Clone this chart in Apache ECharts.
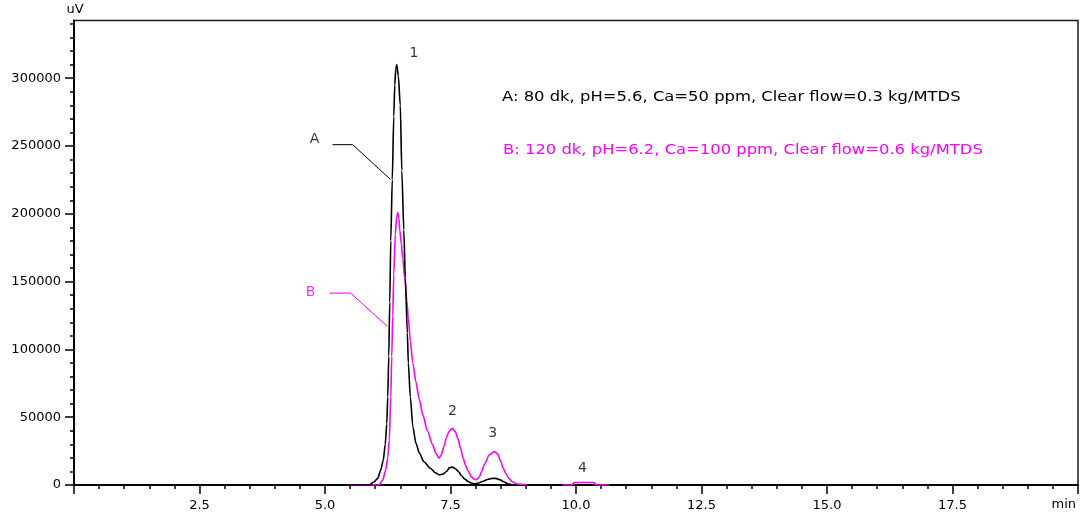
<!DOCTYPE html>
<html>
<head>
<meta charset="utf-8">
<script src="https://cdn.jsdelivr.net/npm/echarts@6.0.0/dist/echarts.min.js"></script>
<style>
  html, body { margin: 0; padding: 0; background: #fff; }
  #chart { width: 1083px; height: 517px; }
</style>
</head>
<body>
<div id="chart"></div>
<script>
// Chromatogram traces: [retention time (min), detector signal (uV)]
const traceA = [
  [5.38, 0], [5.88, 0], [5.98, 2400], [6.05, 4900], [6.11, 11000], [6.16, 18000],
  [6.20, 30000], [6.23, 45000], [6.25, 65000], [6.27, 95000], [6.29, 135000],
  [6.31, 180000], [6.34, 225000], [6.37, 272000], [6.39, 295000], [6.41, 307000],
  [6.43, 310000], [6.46, 302000], [6.50, 280000], [6.53, 232000], [6.57, 188000],
  [6.60, 153000], [6.64, 112000], [6.66, 90000], [6.70, 65000], [6.75, 43000],
  [6.81, 31000], [6.88, 23500], [6.97, 17200], [7.10, 12300], [7.20, 9000],
  [7.28, 7500], [7.35, 8000], [7.42, 10000], [7.48, 12800], [7.54, 13200],
  [7.60, 12000], [7.66, 9800], [7.72, 6800], [7.78, 4500], [7.85, 2600],
  [7.92, 1300], [7.98, 800], [8.05, 1400], [8.15, 2800], [8.25, 4200],
  [8.34, 4900], [8.40, 4900], [8.48, 4000], [8.56, 2400], [8.64, 900], [8.73, 0]
];
const traceB = [
  [5.40, 0], [6.08, 0], [6.15, 3700], [6.21, 11000], [6.25, 20000], [6.28, 33000],
  [6.31, 65000], [6.33, 95000], [6.35, 125000], [6.37, 155000], [6.40, 185000],
  [6.43, 198000], [6.45, 201000], [6.47, 197000], [6.49, 188000], [6.52, 178000],
  [6.55, 167000], [6.59, 152000], [6.63, 136000], [6.66, 123000], [6.70, 106000],
  [6.75, 90000], [6.81, 76000], [6.88, 63000], [6.95, 51500], [7.04, 40000],
  [7.14, 30000], [7.21, 23500], [7.27, 19700], [7.32, 22500], [7.37, 28500],
  [7.42, 35000], [7.47, 39500], [7.54, 41800], [7.60, 39000], [7.65, 34000],
  [7.70, 27000], [7.75, 20000], [7.80, 14500], [7.85, 10500], [7.92, 6000],
  [7.97, 4300], [8.02, 4000], [8.07, 5500], [8.12, 10000], [8.18, 15500],
  [8.27, 22100], [8.37, 24600], [8.44, 23000], [8.50, 17500], [8.55, 12500],
  [8.60, 8600], [8.66, 5000], [8.73, 2400], [8.83, 700], [9.03, 0],
  [9.40, null],
  [9.73, 0], [9.92, 0], [9.96, 1800], [10.36, 1800], [10.40, 0], [10.66, 0]
];

// Axis ticks
const xRange = [0, 20];
const xTickStep = 2.5;
const yRange = [0, 342500];
const yMajorTicks = [0, 50000, 100000, 150000, 200000, 250000, 300000];
const yMinorTicks = [
  10000, 20000, 30000, 40000, 60000, 70000, 80000, 90000, 110000, 120000, 130000,
  140000, 160000, 170000, 180000, 190000, 210000, 220000, 230000, 240000, 260000,
  270000, 280000, 290000, 310000, 320000, 330000, 340000
];

// Peak numbers and trace tags, in data coordinates
const peakLabels = [
  { name: '1', at: [6.77, 318000] },
  { name: '2', at: [7.54, 54000] },
  { name: '3', at: [8.34, 38000] },
  { name: '4', at: [10.13, 12300] }
];
const tagA = { name: 'A', at: [4.79, 255000] };
const tagB = { name: 'B', at: [4.71, 142000] };
const leaderA = [[5.15, 251000], [5.55, 251000], [6.30, 225500]];
const leaderB = [[5.09, 141500], [5.51, 141500], [6.24, 117000]];

const conditionA = 'A: 80 dk, pH=5.6, Ca=50 ppm, Clear flow=0.3 kg/MTDS';
const conditionB = 'B: 120 dk, pH=6.2, Ca=100 ppm, Clear flow=0.6 kg/MTDS';

const FONT = '"DejaVu Sans", Verdana, sans-serif';
const INK = '#000000';
const MAGENTA = '#ff00ff';

const chart = echarts.init(document.getElementById('chart'), null, { renderer: 'canvas' });

const textLabel = (color) => ({
  show: true, position: 'inside', formatter: '{b}',
  color: color, fontFamily: FONT, fontSize: 14
});

chart.setOption({
  animation: false,
  backgroundColor: '#ffffff',
  grid: {
    left: 74, right: 5, top: 20.6, bottom: 32,
    show: true, borderColor: '#1a1a1a', borderWidth: 1.5, backgroundColor: 'transparent'
  },
  xAxis: {
    type: 'value', min: xRange[0], max: xRange[1], interval: xTickStep,
    name: 'min', nameLocation: 'end', nameGap: -2,
    nameTextStyle: {
      color: INK, fontFamily: FONT, fontSize: 13,
      align: 'right', verticalAlign: 'top', padding: [13, 0, 0, 0]
    },
    axisLine: { show: true, onZero: false, lineStyle: { color: INK, width: 2 } },
    axisTick: { show: true, length: 9, lineStyle: { color: INK, width: 1.5 } },
    minorTick: { show: true, splitNumber: 5, length: 4, lineStyle: { color: INK, width: 1.5 } },
    axisLabel: {
      margin: 14, color: INK, fontFamily: FONT, fontSize: 13,
      formatter: (v) => (v > xRange[0] && v < xRange[1]) ? v.toFixed(1) : ''
    },
    splitLine: { show: false }, minorSplitLine: { show: false }
  },
  yAxis: [
    {
      type: 'value', min: yRange[0], max: yRange[1], position: 'left',
      name: 'uV', nameLocation: 'end', nameGap: 4,
      nameTextStyle: { color: INK, fontFamily: FONT, fontSize: 13, align: 'center', padding: [0, 0, 0, 2] },
      axisLine: { show: true, onZero: false, lineStyle: { color: INK, width: 2 } },
      axisTick: { show: true, length: 9, customValues: yMajorTicks, lineStyle: { color: INK, width: 1.5 } },
      axisLabel: {
        margin: 13, color: INK, fontFamily: FONT, fontSize: 13, customValues: yMajorTicks,
        formatter: (v) => String(Math.round(v))
      },
      splitLine: { show: false }
    },
    {
      type: 'value', min: yRange[0], max: yRange[1], position: 'left', offset: 0,
      axisLine: { show: false },
      axisTick: { show: true, length: 4, customValues: yMinorTicks, lineStyle: { color: INK, width: 1.5 } },
      axisLabel: { show: false },
      splitLine: { show: false }
    }
  ],
  graphic: [
    {
      type: 'text', x: 502, y: 97, scaleX: 1.17, silent: true,
      style: { text: conditionA, fill: INK, font: '14px ' + FONT, verticalAlign: 'middle', align: 'left' }
    },
    {
      type: 'text', x: 503, y: 150, scaleX: 1.17, silent: true,
      style: { text: conditionB, fill: MAGENTA, font: '14px ' + FONT, verticalAlign: 'middle', align: 'left' }
    }
  ],
  series: [
    {
      name: 'B', type: 'line', data: traceB, showSymbol: false, connectNulls: false,
      smooth: 0.25, smoothMonotone: 'x', z: 2,
      lineStyle: { color: MAGENTA, width: 1.6 }
    },
    {
      name: 'A', type: 'line', data: traceA, showSymbol: false,
      smooth: 0.25, smoothMonotone: 'x', z: 3,
      lineStyle: { color: INK, width: 1.6 }
    },
    {
      name: 'leaderA', type: 'line', data: leaderA, showSymbol: false, silent: true, z: 4,
      lineStyle: { color: INK, width: 1 }
    },
    {
      name: 'leaderB', type: 'line', data: leaderB, showSymbol: false, silent: true, z: 4,
      lineStyle: { color: MAGENTA, width: 1 }
    },
    {
      name: 'peaks', type: 'scatter', silent: true, symbolSize: 1, z: 5,
      itemStyle: { color: 'rgba(0,0,0,0)' },
      data: peakLabels.map(p => ({ name: p.name, value: p.at })),
      label: textLabel(INK)
    },
    {
      name: 'tags', type: 'scatter', silent: true, symbolSize: 1, z: 5,
      itemStyle: { color: 'rgba(0,0,0,0)' },
      data: [
        { name: tagA.name, value: tagA.at, label: textLabel(INK) },
        { name: tagB.name, value: tagB.at, label: textLabel(MAGENTA) }
      ],
      label: textLabel(INK)
    }
  ]
});
</script>
</body>
</html>
